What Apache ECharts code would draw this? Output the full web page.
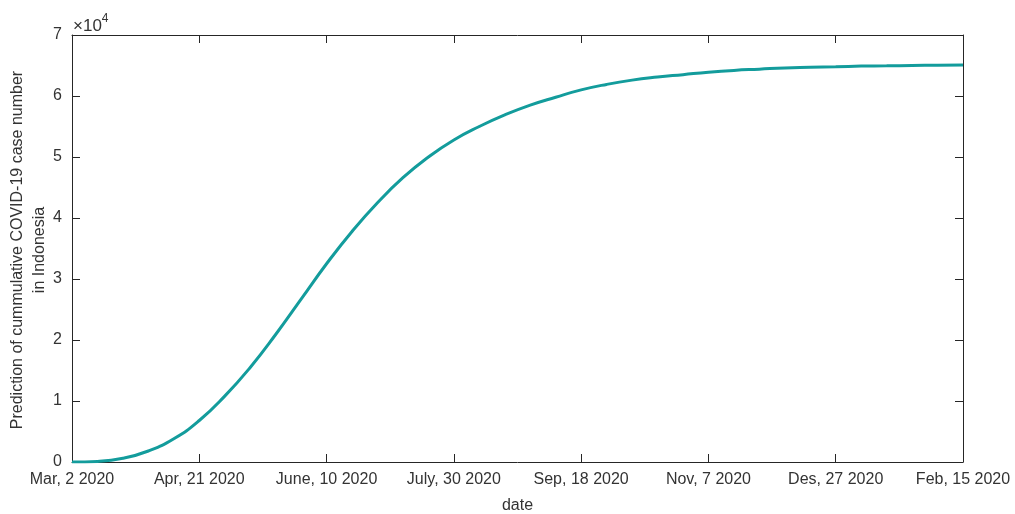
<!DOCTYPE html>
<html>
<head>
<meta charset="utf-8">
<script src="https://cdn.jsdelivr.net/npm/echarts@6/dist/echarts.min.js"></script>
<style>
html,body{margin:0;padding:0;background:#fff;}
#chart{width:1015px;height:514px;}
</style>
</head>
<body>
<div id="chart"></div>
<script>
// Days since Mar 2 2020
const days = [0, 10, 20, 30, 40, 50, 60, 70, 80, 90, 100, 110, 120, 130, 140, 150, 160, 170, 180, 190, 200, 210, 220, 230, 240, 250, 260, 270, 280, 290, 300, 310, 320, 330, 340, 350];
// Predicted cumulative cases (x 10^4)
const cases = [0.00, 0.01, 0.06, 0.18, 0.38, 0.68, 1.08, 1.55, 2.09, 2.67, 3.25, 3.78, 4.25, 4.66, 5.00, 5.28, 5.50, 5.69, 5.85, 5.98, 6.10, 6.19, 6.26, 6.31, 6.35, 6.39, 6.42, 6.44, 6.46, 6.47, 6.48, 6.49, 6.495, 6.50, 6.505, 6.51];
const xTickLabels = ["Mar, 2 2020", "Apr, 21 2020", "June, 10 2020", "July, 30 2020", "Sep, 18 2020", "Nov, 7 2020", "Des, 27 2020", "Feb, 15 2020"];
const yTickLabels = ["0", "1", "2", "3", "4", "5", "6", "7"];
const yTitle = 'Prediction of cummulative COVID-19 case number\nin Indonesia';

const FONT = 'Liberation Sans';
const TXT = '#333333';
const AX = '#262626';

const chart = echarts.init(document.getElementById('chart'), null, {renderer: 'canvas'});
const axisCommon = {
  axisLine: {show: true, onZero: false, lineStyle: {color: AX, width: 1}},
  axisTick: {show: true, inside: true, length: 8, lineStyle: {color: AX, width: 1}},
  splitLine: {show: false}
};
chart.setOption({
  animation: false,
  backgroundColor: '#ffffff',
  grid: {left: 72, right: 52, top: 35, bottom: 52, containLabel: false, outerBoundsMode: 'none'},
  xAxis: [
    Object.assign({
      type: 'value', min: 0, max: 350, interval: 50, position: 'bottom',
      name: 'date', nameLocation: 'middle', nameGap: 36,
      nameTextStyle: {fontFamily: FONT, fontSize: 16, color: TXT},
      axisLabel: {fontFamily: FONT, fontSize: 16, color: TXT, margin: 10,
        formatter: v => xTickLabels[Math.round(v / 50)]}
    }, axisCommon),
    Object.assign({
      type: 'value', min: 0, max: 350, interval: 50, position: 'top',
      axisLabel: {show: false}
    }, axisCommon)
  ],
  yAxis: [
    Object.assign({
      type: 'value', min: 0, max: 7, interval: 1, position: 'left',
      axisLabel: {fontFamily: FONT, fontSize: 16, color: TXT, margin: 10,
        formatter: v => yTickLabels[Math.round(v)]}
    }, axisCommon),
    Object.assign({
      type: 'value', min: 0, max: 7, interval: 1, position: 'right',
      axisLabel: {show: false}
    }, axisCommon)
  ],
  graphic: [{
    type: 'text', left: 73, top: 13,
    style: {
      text: '{a|×10}{b|4}',
      rich: {
        a: {fontFamily: FONT, fontSize: 17, fill: TXT, verticalAlign: 'bottom', lineHeight: 22},
        b: {fontFamily: FONT, fontSize: 12, fill: TXT, verticalAlign: 'top', lineHeight: 14, padding: [0,0,8,0]}
      }
    }
  }, {
    type: 'text', x: 29, y: 250, rotation: Math.PI / 2,
    style: {
      text: yTitle, fontFamily: FONT, fontSize: 16, fill: TXT, lineHeight: 22,
      align: 'center', verticalAlign: 'middle'
    }
  }],
  series: [{
    type: 'line', xAxisIndex: 0, yAxisIndex: 0,
    data: days.map((d, i) => [d, cases[i]]),
    smooth: true, showSymbol: false,
    lineStyle: {color: '#139c9c', width: 3},
    itemStyle: {color: '#139c9c'}
  }]
});
</script>
</body>
</html>
